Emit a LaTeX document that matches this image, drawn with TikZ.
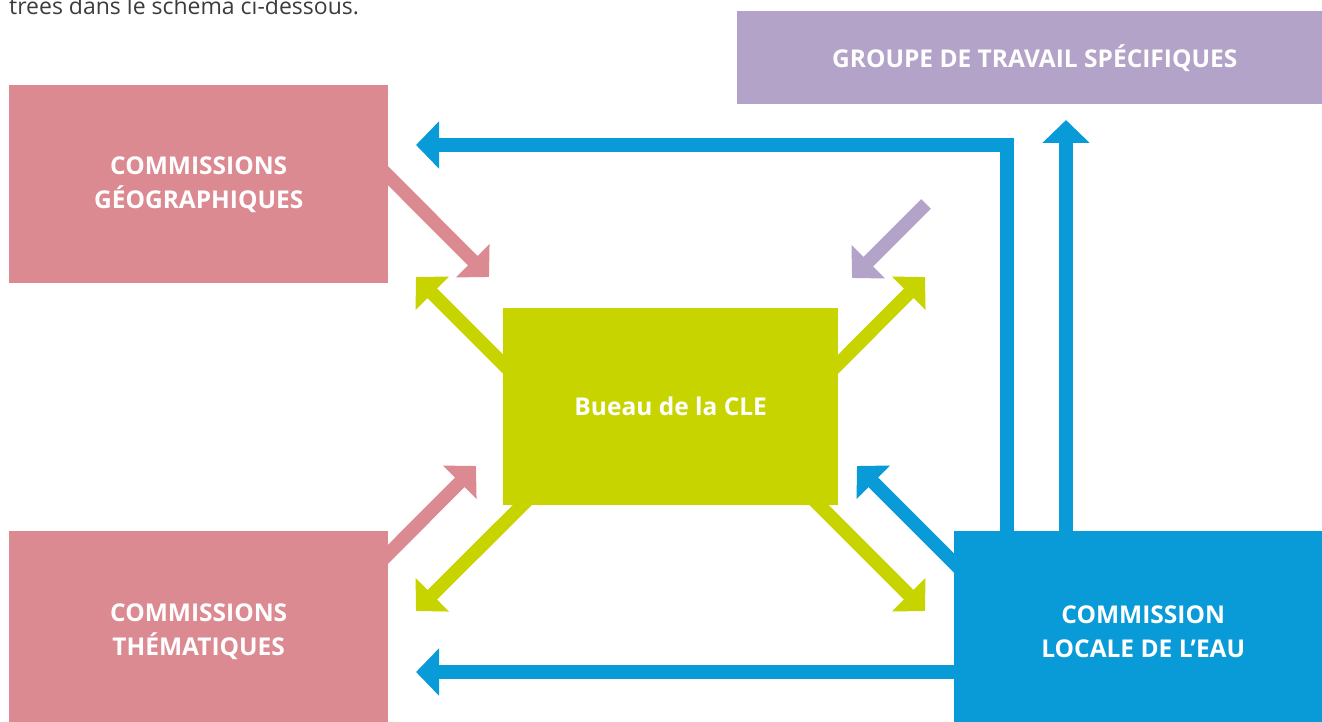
\documentclass[tikz,border=0pt]{standalone}
\usepackage{fontspec}
\setmainfont{Open Sans}
\usepackage{tikz}
\usetikzlibrary{arrows.meta,backgrounds,calc}
\definecolor{geopink}{HTML}{DC8A92}
\definecolor{grplilac}{HTML}{B4A3C8}
\definecolor{burlime}{HTML}{C8D400}
\definecolor{cleblue}{HTML}{089BD7}
\definecolor{introgray}{HTML}{3C3C3B}

\begin{document}
\begin{tikzpicture}[
        x=1pt, y=-1pt,
        box/.style={rectangle, anchor=north west, inner sep=0pt, text=white, align=center, font=\fontsize{24.5}{34}\selectfont\bfseries},
        intro/.style={anchor=base west, inner sep=0pt, text=introgray, font=\fontsize{23}{27}\selectfont},
        line/.style={draw, line width=13.5pt, -{Triangle[length=23pt,width=46pt]}}
    ]
    \useasboundingbox (0,0) rectangle (1322,722);
    \node [intro] (note) at (9,15) {trées dans le schéma ci-dessous.};
    % boxes on the right and bottom run past the page edge
    \node [box, fill=grplilac, minimum width=595pt, minimum height=93pt] (groupe) at (737,11) {GROUPE DE TRAVAIL SPÉCIFIQUES};
    \node [box, fill=geopink, minimum width=379pt, minimum height=198pt] (geo) at (9,85) {COMMISSIONS\\GÉOGRAPHIQUES};
    \node [box, fill=geopink, minimum width=379pt, minimum height=201pt] (them) at (9,531) {COMMISSIONS\\THÉMATIQUES};
    \node [box, fill=burlime, minimum width=335pt, minimum height=197pt] (bureau) at (503,308) {Bueau de la CLE};
    \node [box, fill=cleblue, minimum width=378pt, minimum height=201pt] (cle) at (954,531) {COMMISSION\\LOCALE DE L’EAU};
    % free ends of the arrows
    \coordinate (tipgeo) at (416,145);
    \coordinate (tipgrp) at (1066,120);
    \coordinate (tipthem) at (416,672);
    \coordinate (tipcle) at (857,466);
    \coordinate (tiptl) at (416,277);
    \coordinate (tiptr) at (925,277);
    \coordinate (tipbl) at (416,611);
    \coordinate (tipbr) at (925,611);
    \coordinate (tipgeob) at (489,277);
    \coordinate (tipthemb) at (476,466);
    \coordinate (grpstart) at (926,204);
    \coordinate (tipgrpb) at (852,278);
    \begin{scope}[on background layer]
    \path [line, cleblue] ($(cle.north west)+(53,10)$) |- (tipgeo);
    \path [line, cleblue] ($(cle.north west)+(112,10)$) -- (tipgrp);
    \path [line, cleblue] ($(cle.north west)+(10,141)$) -- (tipthem);
    \path [line, cleblue] ($(cle.north west)+(16,48)$) -- (tipcle);
    \path [line, burlime] ($(bureau.north west)+(23,79)$) -- (tiptl);
    \path [line, burlime] ($(bureau.north east)+(-23,79)$) -- (tiptr);
    \path [line, burlime] ($(bureau.south west)+(33,-14)$) -- (tipbl);
    \path [line, burlime] ($(bureau.south east)+(-33,-14)$) -- (tipbr);
    \path [line, geopink] ($(geo.north east)+(-14,77)$) -- (tipgeob);
    \path [line, geopink] ($(them.north east)+(-17,40)$) -- (tipthemb);
    \path [line, grplilac] (grpstart) -- (tipgrpb);
    \end{scope}
\end{tikzpicture}
\end{document}
